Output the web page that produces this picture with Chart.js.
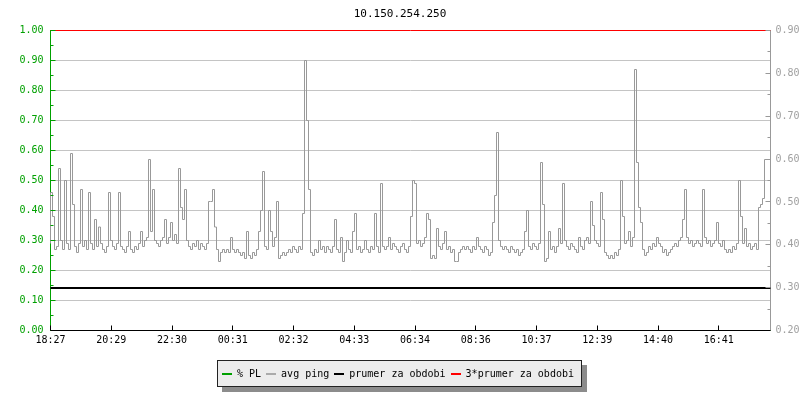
<!DOCTYPE html>
<html>
<head>
<meta charset="utf-8">
<script src="https://cdn.jsdelivr.net/npm/chart.js@4.4.1/dist/chart.umd.min.js"></script>
<style>
  body { margin: 0; background: #fff; }
  #wrap { position: relative; width: 800px; height: 400px; }
  #legend {
    position: absolute; left: 217px; top: 360px; width: 365px; height: 27px;
    box-sizing: border-box; background: #ececec; border: 1px solid #222;
    box-shadow: 5px 5px 0 #8c8c8c;
    font: 10px 'DejaVu Sans Mono', monospace; color: #000;
    display: flex; align-items: center; padding-left: 4px; white-space: nowrap;
  }
  #legend .item { display: flex; align-items: center; margin-right: 5px; }
  #legend .line { display: inline-block; width: 10px; height: 2px; margin-right: 5px; }
</style>
</head>
<body>
<div id="wrap">
  <canvas id="chart" width="800" height="400"></canvas>
  <div id="legend"></div>
</div>
<script>
// avg ping (left axis units), one sample = 4 minutes
const pingValues = [
  0.29, 0.46, 0.38, 0.27, 0.28, 0.54, 0.30, 0.27, 0.50, 0.29,
  0.27, 0.59, 0.42, 0.28, 0.26, 0.29, 0.47, 0.28, 0.30, 0.27,
  0.46, 0.29, 0.27, 0.37, 0.28, 0.345, 0.29, 0.27, 0.26, 0.28,
  0.46, 0.30, 0.28, 0.27, 0.29, 0.46, 0.28, 0.27, 0.26, 0.28,
  0.33, 0.27, 0.26, 0.28, 0.27, 0.29, 0.33, 0.28, 0.30, 0.31,
  0.57, 0.33, 0.47, 0.30, 0.29, 0.28, 0.30, 0.31, 0.37, 0.29,
  0.31, 0.36, 0.30, 0.32, 0.29, 0.54, 0.41, 0.37, 0.47, 0.30,
  0.28, 0.27, 0.29, 0.28, 0.30, 0.27, 0.29, 0.28, 0.27, 0.29,
  0.43, 0.43, 0.47, 0.345, 0.27, 0.23, 0.26, 0.27, 0.26, 0.27,
  0.26, 0.31, 0.27, 0.26, 0.27, 0.26, 0.25, 0.26, 0.24, 0.33,
  0.25, 0.24, 0.26, 0.25, 0.27, 0.33, 0.40, 0.53, 0.28, 0.27,
  0.40, 0.33, 0.28, 0.31, 0.43, 0.24, 0.25, 0.26, 0.25, 0.26,
  0.27, 0.26, 0.28, 0.27, 0.26, 0.28, 0.27, 0.39, 0.90, 0.70,
  0.47, 0.26, 0.25, 0.27, 0.26, 0.30, 0.27, 0.28, 0.26, 0.28,
  0.27, 0.26, 0.28, 0.37, 0.27, 0.26, 0.31, 0.23, 0.26, 0.30,
  0.27, 0.26, 0.33, 0.39, 0.27, 0.28, 0.26, 0.27, 0.30, 0.27,
  0.26, 0.28, 0.27, 0.39, 0.28, 0.26, 0.49, 0.28, 0.27, 0.28,
  0.31, 0.27, 0.29, 0.28, 0.27, 0.26, 0.28, 0.29, 0.27, 0.26,
  0.28, 0.38, 0.50, 0.49, 0.29, 0.30, 0.28, 0.29, 0.31, 0.39,
  0.37, 0.24, 0.25, 0.24, 0.34, 0.28, 0.27, 0.29, 0.33, 0.27,
  0.28, 0.26, 0.27, 0.23, 0.23, 0.26, 0.27, 0.28, 0.27, 0.28,
  0.27, 0.26, 0.28, 0.27, 0.31, 0.28, 0.27, 0.26, 0.28, 0.27,
  0.25, 0.26, 0.36, 0.45, 0.66, 0.30, 0.28, 0.27, 0.28, 0.27,
  0.26, 0.28, 0.27, 0.26, 0.27, 0.25, 0.26, 0.27, 0.33, 0.40,
  0.28, 0.27, 0.29, 0.28, 0.27, 0.29, 0.56, 0.42, 0.23, 0.24,
  0.33, 0.27, 0.28, 0.26, 0.28, 0.34, 0.29, 0.49, 0.30, 0.28,
  0.27, 0.29, 0.28, 0.27, 0.26, 0.31, 0.28, 0.27, 0.30, 0.31,
  0.29, 0.43, 0.35, 0.30, 0.29, 0.28, 0.46, 0.37, 0.26, 0.25,
  0.24, 0.25, 0.24, 0.26, 0.25, 0.27, 0.50, 0.38, 0.29, 0.30,
  0.33, 0.28, 0.31, 0.87, 0.56, 0.41, 0.36, 0.27, 0.25, 0.26,
  0.28, 0.27, 0.29, 0.28, 0.31, 0.29, 0.28, 0.26, 0.27, 0.25,
  0.26, 0.27, 0.28, 0.29, 0.28, 0.30, 0.31, 0.37, 0.47, 0.31,
  0.29, 0.30, 0.28, 0.29, 0.30, 0.29, 0.28, 0.47, 0.31, 0.29,
  0.30, 0.28, 0.29, 0.30, 0.36, 0.29, 0.28, 0.30, 0.27, 0.26,
  0.27, 0.26, 0.28, 0.27, 0.29, 0.50, 0.38, 0.29, 0.34, 0.28,
  0.29, 0.27, 0.28, 0.29, 0.27, 0.41, 0.42, 0.44, 0.57, 0.57
];
const plValues = [0, 0];
const prumer = 0.142;
const triplePrumer = 1.0;
const timeLabels = ['18:27', '20:29', '22:30', '00:31', '02:32', '04:33',
                    '06:34', '08:36', '10:37', '12:39', '14:40', '16:41'];
const labelStep = 30.375; // samples between time labels

const green = '#00a000';
const font = { family: "'DejaVu Sans Mono', monospace", size: 10 };
const N = pingValues.length;

const pingPoints = pingValues.map((v, i) => ({ x: i, y: v }));
pingPoints.push({ x: N, y: pingValues[N - 1] });
const flat = v => [{ x: 0, y: v }, { x: N, y: v }];

// small tick marks pointing into the plot, drawn like the original
const axisMarks = {
  id: 'axisMarks',
  afterDatasetsDraw(chart) {
    const { ctx, chartArea: a, scales } = chart;
    ctx.save();
    ctx.lineWidth = 1;
    const hline = (x0, x1, py) => {
      ctx.beginPath(); ctx.moveTo(x0, py); ctx.lineTo(x1, py); ctx.stroke();
    };
    ctx.strokeStyle = green;
    for (let k = 0; k <= 20; k++) {
      const py = Math.floor(scales.y.getPixelForValue(k * 0.05)) + 0.5;
      hline(a.left, a.left + (k % 2 ? 3 : 5), py);
    }
    ctx.strokeStyle = '#999';
    for (let k = 4; k <= 18; k++) {
      const py = Math.floor(scales.y1.getPixelForValue(k * 0.05)) + 0.5;
      hline(a.right, a.right - (k % 2 ? 3 : 5), py);
    }
    ctx.strokeStyle = '#000';
    const by = Math.floor(a.bottom) + 0.5;
    hline(a.left, a.right, by);
    timeLabels.forEach((t, i) => {
      const px = Math.floor(scales.x.getPixelForValue(i * labelStep)) + 0.5;
      ctx.beginPath(); ctx.moveTo(px, by); ctx.lineTo(px, by - 5); ctx.stroke();
    });
    ctx.restore();
  }
};

const chart = new Chart(document.getElementById('chart'), {
  type: 'line',
  data: {
    datasets: [
      { label: '% PL', data: plValues.map((v, i) => ({ x: i * N, y: v })), borderColor: green, borderWidth: 1 },
      { label: 'avg ping', data: pingPoints, borderColor: '#999999', borderWidth: 1, stepped: 'after' },
      { label: 'prumer za obdobi', data: flat(prumer), borderColor: '#000000', borderWidth: 2 },
      { label: '3*prumer za obdobi', data: flat(triplePrumer), borderColor: '#ff0000', borderWidth: 1 }
    ]
  },
  options: {
    responsive: false,
    animation: false,
    layout: { padding: 0 },
    elements: { point: { radius: 0 }, line: { tension: 0 } },
    datasets: { line: { clip: 2 } },
    plugins: {
      legend: { display: false },
      tooltip: { enabled: false },
      title: {
        display: true, text: '10.150.254.250', color: '#000',
        font: { family: font.family, size: 11, weight: 'normal', lineHeight: 1.2 },
        padding: { top: 8, bottom: 9.3 }
      }
    },
    scales: {
      x: {
        type: 'linear', min: 0, max: N,
        afterFit(s) { s.height = 69.5; },
        afterBuildTicks(s) { s.ticks = timeLabels.map((t, i) => ({ value: i * labelStep })); },
        ticks: { callback: (v, i) => timeLabels[i], color: '#000', font, padding: 4, maxRotation: 0, autoSkip: false },
        grid: { display: false, drawTicks: false },
        border: { color: '#000' }
      },
      y: {
        min: 0, max: 1,
        afterFit(s) { s.width = 50.5; },
        ticks: { stepSize: 0.1, callback: v => v.toFixed(2), color: green, font, padding: 7 },
        grid: { color: '#c4c4c4', drawTicks: false },
        border: { color: green }
      },
      y1: {
        position: 'right', min: 0.2, max: 0.9,
        afterFit(s) { s.width = 29.5; },
        ticks: { stepSize: 0.1, callback: v => v.toFixed(2), color: '#a0a0a0', font, padding: 5 },
        grid: { drawOnChartArea: false, drawTicks: false },
        border: { color: '#999' }
      }
    }
  },
  plugins: [axisMarks]
});

const legendColors = [green, '#aaaaaa', '#000000', '#ff0000'];
document.getElementById('legend').innerHTML = chart.data.datasets.map((d, i) =>
  '<span class="item"><span class="line" style="background:' + legendColors[i] + '"></span>' + d.label + '</span>'
).join('');
</script>
</body>
</html>
